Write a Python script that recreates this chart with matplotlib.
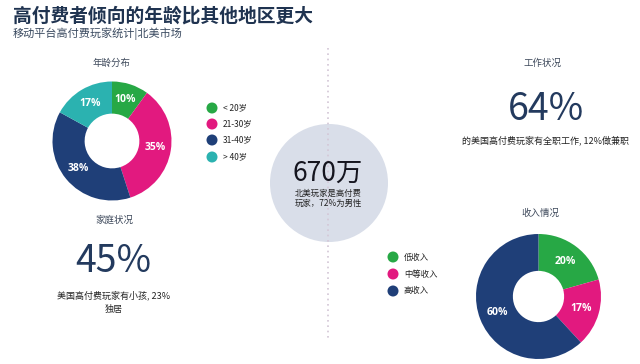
import numpy as np
import matplotlib
matplotlib.use('Agg')
import matplotlib.pyplot as plt
from matplotlib.patches import Circle

plt.rcParams['font.family'] = ['Noto Sans CJK SC', 'DejaVu Sans']

# data
title = '高付费者倾向的年龄比其他地区更大'
subtitle = '移动平台高付费玩家统计|北美市场'

age_labels = ['< 20岁', '21-30岁', '31-40岁', '> 40岁']
age_vals = [10, 35, 38, 17]
age_cols = ['#27a845', '#e2197f', '#1f3f78', '#2bb2b0']

income_labels = ['低收入', '中等收入', '高收入']
income_vals = [20, 17, 60]
income_cols = ['#27a845', '#e2197f', '#1f3f78']

players = '670万'
players_note = '北美玩家是高付费\n玩家，72%为男性'
work_pct = '64%'
work_note = '的美国高付费玩家有全职工作, 12%做兼职'
family_pct = '45%'
family_note = '美国高付费玩家有小孩, 23%\n独居'

W, H = 640, 364
fig = plt.figure(figsize=(W/100, H/100), dpi=100, facecolor='white')
ax = fig.add_axes([0, 0, 1, 1])
ax.set_xlim(0, W); ax.set_ylim(H, 0); ax.axis('off')

navy = '#233a5e'
grey = '#3f4a5c'

def donut(cx, cy, r, vals, cols, hole):
    a = fig.add_axes([(cx-r)/W, 1-(cy+r)/H, 2*r/W, 2*r/H])
    a.pie(vals, colors=cols, startangle=90, counterclock=False, radius=1,
          wedgeprops=dict(width=1-hole, edgecolor='none'))
    a.set_xlim(-1, 1); a.set_ylim(-1, 1); a.set_aspect('equal'); a.axis('off')
    tot = float(sum(vals))
    start = 90.
    rr = (1+hole)/2
    for v in vals:
        mid = np.radians(start - v/tot*360/2)
        a.text(rr*np.cos(mid), rr*np.sin(mid), f'{v}%', color='white',
               fontsize=7.5, fontweight='bold', family=['Open Sans', 'DejaVu Sans'],
               ha='center', va='center')
        start -= v/tot*360

def legend(x, ys, labels, cols):
    for y, l, c in zip(ys, labels, cols):
        ax.add_patch(Circle((x, y), 5.5, color=c, lw=0))
        ax.text(x+11, y, l, fontsize=6, color='#222222', va='center', ha='left')

# titles
ax.text(13, 16, title, fontsize=13.5, fontweight='bold', color='#1f3350', va='center')
ax.text(13, 34, subtitle, fontsize=8, color='#3a4a60', va='center')

# dotted divider + centre circle
ax.plot([328, 328], [48, 340], color='#d3c6d6', lw=1.2, ls=(0, (1, 2.2)))
ax.add_patch(Circle((329, 183), 59, color='#d9dee9', lw=0))
ax.text(328, 173, players, fontsize=19, color='#15151f', ha='center', va='center')
ax.text(328, 198, players_note, fontsize=6, color='#222222', ha='center', va='center',
        linespacing=1.15)

# age
ax.text(112, 63, '年龄分布', fontsize=6.8, color=grey, ha='center', va='center')
donut(112, 141, 59.5, age_vals, age_cols, 0.46)
legend(212, [108, 124, 140, 157], age_labels, age_cols)

# family
ax.text(114, 220, '家庭状况', fontsize=6.8, color=grey, ha='center', va='center')
ax.text(113, 262, family_pct, fontsize=27, color=navy, ha='center', va='center', fontweight='light')
ax.text(114, 302, family_note, fontsize=6.5, color='#222222', ha='center', va='center',
        linespacing=1.6)

# work
ax.text(543, 63, '工作状况', fontsize=6.8, color=grey, ha='center', va='center')
ax.text(546, 110, work_pct, fontsize=27, color=navy, ha='center', va='center', fontweight='light')
ax.text(545, 140, work_note, fontsize=6.5, color='#222222', ha='center', va='center')

# income
ax.text(540, 213, '收入情况', fontsize=6.8, color=grey, ha='center', va='center')
donut(538.5, 296.5, 62.5, income_vals, income_cols, 0.41)
legend(393, [257, 274, 291], income_labels, income_cols)

fig.savefig('out.png', dpi=100, facecolor='white')
